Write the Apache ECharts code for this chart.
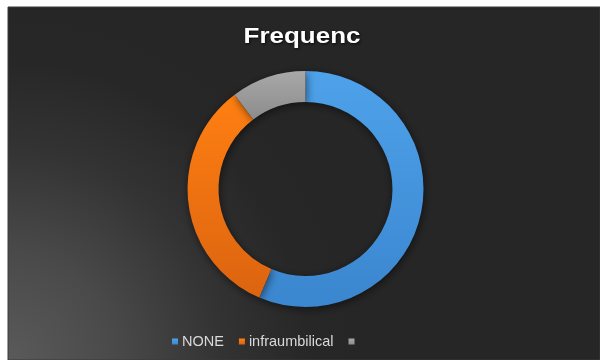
<!DOCTYPE html>
<html>
<head>
<meta charset="utf-8">
<script src="https://cdn.jsdelivr.net/npm/echarts@6/dist/echarts.min.js"></script>
<style>
  html, body { margin: 0; padding: 0; background: #ffffff; }
  #chart { width: 600px; height: 360px; }
</style>
</head>
<body>
<div id="chart"></div>
<script>
// Frequency of each category
const titleText = 'Frequenc';
const categories = ['NONE', 'infraumbilical', ' '];
const counts = [22, 13, 4];
// top / bottom shades of each slice
const topColors = ['#4ea2ea', '#ff7f12', '#a8a8a8'];
const bottomColors = ['#3a86cf', '#dc6410', '#8c8c8c'];

const chart = echarts.init(document.getElementById('chart'), null, { renderer: 'canvas' });

const pieData = categories.map((name, i) => ({
  name: name,
  value: counts[i],
  itemStyle: {
    color: new echarts.graphic.LinearGradient(0, 0, 0, 1, [
      { offset: 0, color: topColors[i] },
      { offset: 1, color: bottomColors[i] }
    ])
  }
}));

chart.setOption({
  backgroundColor: '#ffffff',
  animation: false,
  graphic: [{
    type: 'rect',
    z: -10,
    silent: true,
    shape: { x: 8, y: 7, width: 592, height: 353 },
    style: {
      fill: new echarts.graphic.RadialGradient(0, 1, 1.0, [
        { offset: 0, color: '#5a5a5a' },
        { offset: 0.3, color: '#4a4a4a' },
        { offset: 0.6, color: '#333333' },
        { offset: 0.85, color: '#272727' },
        { offset: 1, color: '#262626' }
      ]),
      stroke: '#3a3a3a',
      lineWidth: 1
    }
  }, {
    // chart heading, slightly widened
    type: 'text',
    silent: true,
    x: 302,
    y: 37,
    scaleX: 1.18,
    z: 10,
    style: {
      text: titleText,
      fill: '#ffffff',
      font: 'bold 22px "Liberation Sans", Arial, sans-serif',
      textAlign: 'center',
      textVerticalAlign: 'middle',
      textShadowColor: 'rgba(0,0,0,0.8)',
      textShadowBlur: 3,
      textShadowOffsetX: 1,
      textShadowOffsetY: 1
    }
  }],
  legend: {
    top: 329,
    left: 167,
    icon: 'rect',
    itemWidth: 6,
    itemHeight: 6,
    itemGap: 15,
    data: categories,
    textStyle: {
      color: '#d9d9d9',
      fontFamily: 'Liberation Sans, Arial, sans-serif',
      fontSize: 14.5,
      padding: [0, 0, 0, -1]
    }
  },
  series: [{
    type: 'pie',
    center: [305.5, 189],
    radius: [87, 118],
    startAngle: 90,
    clockwise: true,
    label: { show: false },
    labelLine: { show: false },
    emphasis: { disabled: true },
    itemStyle: {
      shadowBlur: 8,
      shadowColor: 'rgba(0,0,0,0.55)',
      shadowOffsetX: 1,
      shadowOffsetY: 2
    },
    data: pieData
  }]
});
</script>
</body>
</html>
